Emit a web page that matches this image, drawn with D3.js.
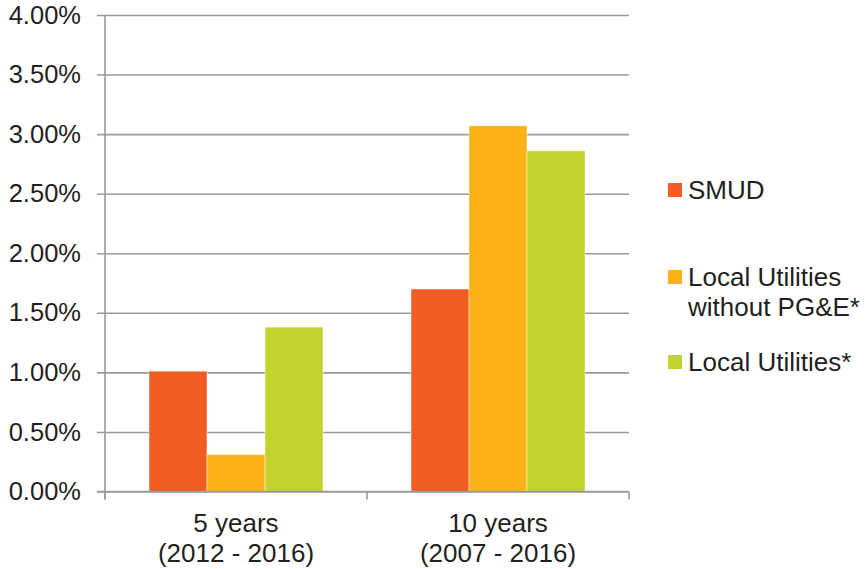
<!DOCTYPE html>
<html>
<head>
<meta charset="utf-8">
<script src="https://cdn.jsdelivr.net/npm/d3@7"></script>
<style>
  html, body { margin: 0; padding: 0; background: #fff; }
  svg { display: block; font-family: "Liberation Sans", Arial, sans-serif; }
</style>
</head>
<body>
<svg id="chart" width="865" height="569"></svg>
<script>
const categories = ["5 years|(2012 - 2016)", "10 years|(2007 - 2016)"];
const seriesNames = ["SMUD", "Local Utilities|without PG&E*", "Local Utilities*"];
const seriesColors = ["#F15D22", "#FDB317", "#C2D22E"];
const smud = [0.0101, 0.0170];
const localWithoutPGE = [0.0031, 0.0307];
const localUtilities = [0.0138, 0.0286];
const yTicks = [0, 0.005, 0.01, 0.015, 0.02, 0.025, 0.03, 0.035, 0.04];

(function () {
const seriesValues = [smud, localWithoutPGE, localUtilities];

const svg = d3.select("#chart");
const mLeft = 105, mRight = 629, mTop = 15, mBottom = 491.5;
const textColor = "#231F20";
const gridColor = "#9A9A9A";

const y = d3.scaleLinear().domain([0, 0.04]).range([mBottom, mTop]);
const x0 = d3.scaleBand().domain(categories).range([mLeft, mRight]).padding(0);
const x1 = d3.scaleBand().domain(seriesNames).range([0, x0.bandwidth()])
  .paddingInner(0).paddingOuter(0.759);

const yAxis = d3.axisLeft(y).tickValues(yTicks).tickFormat(d3.format(".2%"))
  .tickSize(-(mRight - mLeft)).tickSizeOuter(0);
const gy = svg.append("g").attr("transform", `translate(${mLeft},0)`).call(yAxis);
gy.select(".domain").remove();
gy.selectAll(".tick line").attr("stroke", gridColor).attr("stroke-width", 1.6).attr("x1", -8);
gy.selectAll(".tick text").attr("fill", textColor).attr("font-size", 25.5)
  .attr("font-family", "'Liberation Sans', Arial, sans-serif").attr("x", -24);

const groups = svg.append("g").selectAll("g").data(categories).join("g")
  .attr("transform", d => `translate(${x0(d)},0)`);
groups.selectAll("rect")
  .data((c, ci) => seriesNames.map((s, si) => ({ s, si, v: seriesValues[si][ci] })))
  .join("rect")
  .attr("x", d => x1(d.s))
  .attr("y", d => y(d.v))
  .attr("width", x1.bandwidth())
  .attr("height", d => y(0) - y(d.v))
  .attr("fill", d => seriesColors[d.si])
  .attr("stroke", "#ffffff").attr("stroke-opacity", 0.45).attr("stroke-width", 1);

svg.append("line").attr("x1", mLeft).attr("x2", mLeft).attr("y1", mTop).attr("y2", mBottom + 8)
  .attr("stroke", gridColor).attr("stroke-width", 1.6);

const xAxis = d3.axisBottom(x0).tickSize(0).tickFormat("");
const gx = svg.append("g").attr("transform", `translate(0,${mBottom})`).call(xAxis);
gx.select(".domain").attr("stroke", gridColor).attr("stroke-width", 1.6)
  .attr("d", `M${mLeft - 8},0H${mRight}`);
const bounds = [mLeft, ...categories.map(c => x0(c) + x0.bandwidth())];
gx.selectAll("line.bt").data(bounds).join("line").attr("class", "bt")
  .attr("x1", d => d).attr("x2", d => d).attr("y1", 0).attr("y2", 8)
  .attr("stroke", gridColor).attr("stroke-width", 1.6);
categories.forEach(c => {
  const lines = c.split("|");
  const cx = x0(c) + x0.bandwidth() / 2;
  const t = svg.append("text").attr("text-anchor", "middle").attr("fill", textColor)
    .attr("font-size", 26).attr("x", cx);
  lines.forEach((ln, i) => {
    t.append("tspan").attr("x", cx).attr("y", 532 + i * 30).text(ln);
  });
});

const legendY = [190, 277, 362];
seriesNames.forEach((name, i) => {
  const g = svg.append("g");
  g.append("rect").attr("x", 668).attr("y", legendY[i] - 7).attr("width", 14).attr("height", 14)
    .attr("fill", seriesColors[i]);
  const t = g.append("text").attr("fill", textColor).attr("font-size", 26);
  name.split("|").forEach((ln, j) => {
    t.append("tspan").attr("x", 688).attr("y", legendY[i] + 9 + j * 30).text(ln);
  });
});
})();
</script>
</body>
</html>
